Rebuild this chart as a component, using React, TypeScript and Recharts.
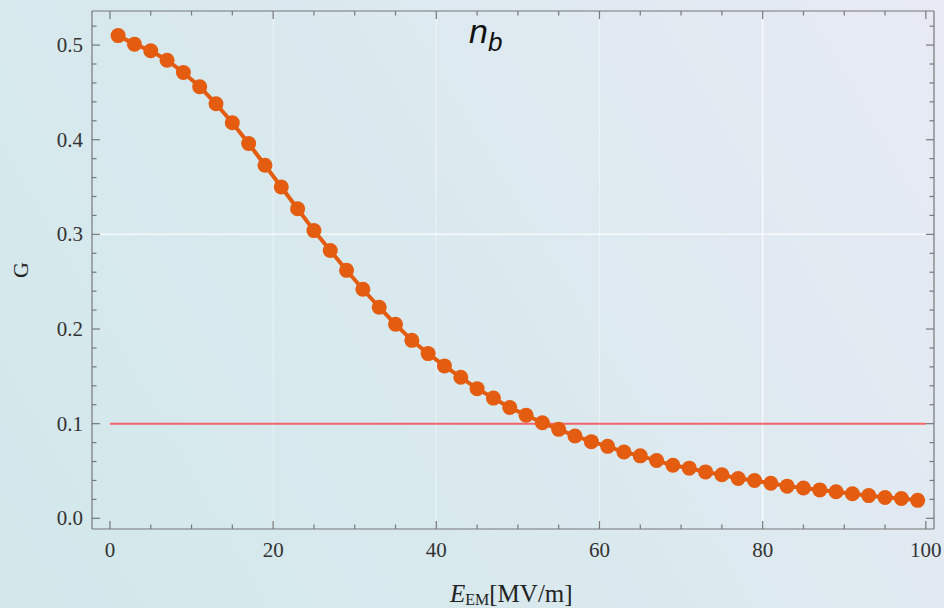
import React from "react";
import {
  LineChart,
  Line,
  XAxis,
  YAxis,
  CartesianGrid,
  ReferenceLine,
} from "recharts";

const E_VALUES = [
  1, 3, 5, 7, 9, 11, 13, 15, 17, 19, 21, 23, 25, 27, 29, 31, 33, 35, 37, 39,
  41, 43, 45, 47, 49, 51, 53, 55, 57, 59, 61, 63, 65, 67, 69, 71, 73, 75, 77,
  79, 81, 83, 85, 87, 89, 91, 93, 95, 97, 99,
];
const G_VALUES = [
  0.51, 0.501, 0.494, 0.484, 0.471, 0.456, 0.438, 0.418, 0.396, 0.373, 0.35,
  0.327, 0.304, 0.283, 0.262, 0.242, 0.223, 0.205, 0.188, 0.174, 0.161, 0.149,
  0.137, 0.127, 0.117, 0.109, 0.101, 0.094, 0.087, 0.081, 0.076, 0.07, 0.066,
  0.061, 0.056, 0.053, 0.049, 0.046, 0.042, 0.04, 0.037, 0.034, 0.032, 0.03,
  0.028, 0.026, 0.024, 0.022, 0.021, 0.019,
];
const THRESHOLD = 0.1;
const THRESHOLD_RANGE = [0, 100];

const X_TICKS = [
  0, 5, 10, 15, 20, 25, 30, 35, 40, 45, 50, 55, 60, 65, 70, 75, 80, 85, 90, 95,
  100,
];
const X_LABELS = [0, 20, 40, 60, 80, 100];
const Y_TICKS = [
  0, 0.02, 0.04, 0.06, 0.08, 0.1, 0.12, 0.14, 0.16, 0.18, 0.2, 0.22, 0.24,
  0.26, 0.28, 0.3, 0.32, 0.34, 0.36, 0.38, 0.4, 0.42, 0.44, 0.46, 0.48, 0.5,
  0.52,
];
const Y_LABELS = [0, 0.1, 0.2, 0.3, 0.4, 0.5];
const GRID_X_FAINT = [20, 40, 60];
const GRID_X = [80];
const GRID_Y = [0.3];

const data = E_VALUES.map((e, i) => ({ e, g: G_VALUES[i] }));

const W = 944;
const H = 608;
const MARGIN = { top: 11, right: 10, left: 0, bottom: 0 };
const Y_AXIS_W = 92;
const X_AXIS_H = 79;
const PLOT_W = W - MARGIN.right - Y_AXIS_W;
const PLOT_H = H - MARGIN.top - X_AXIS_H;

const FRAME = "#777";
const ORANGE = "#e35c0f";
const serif = "'Liberation Serif', 'Times New Roman', serif";
const X_DOMAIN = [-2.2, 101];
const Y_DOMAIN = [-0.0113, 0.536];

const isXLabel = (v: number) => X_LABELS.includes(v);
const isYLabel = (v: number) => Y_LABELS.some((l) => Math.abs(l - v) < 1e-6);

// bottom ticks also draw the matching mark on the top frame
const BottomTick = (props: any) => {
  const { x, y, payload } = props;
  const major = isXLabel(payload.value);
  const len = major ? 8 : 4.5;
  const top = y - PLOT_H;
  return (
    <g>
      <line x1={x} x2={x} y1={y} y2={y - len} stroke={FRAME} strokeWidth={1.2} />
      <line x1={x} x2={x} y1={top} y2={top + len} stroke={FRAME} strokeWidth={1.2} />
      {major && (
        <text x={x} y={y + 28} textAnchor="middle" fontFamily={serif} fontSize={21} fill="#333">
          {payload.value}
        </text>
      )}
    </g>
  );
};

// left ticks also draw the matching mark on the right frame
const LeftTick = (props: any) => {
  const { x, y, payload } = props;
  const major = isYLabel(payload.value);
  const len = major ? 8 : 4.5;
  const right = x + PLOT_W;
  return (
    <g>
      <line x1={x} x2={x + len} y1={y} y2={y} stroke={FRAME} strokeWidth={1.2} />
      <line x1={right} x2={right - len} y1={y} y2={y} stroke={FRAME} strokeWidth={1.2} />
      {major && (
        <text x={x - 9} y={y + 7} textAnchor="end" fontFamily={serif} fontSize={21} fill="#333">
          {payload.value.toFixed(1)}
        </text>
      )}
    </g>
  );
};

export default function App() {
  return (
    <div
      style={{
        position: "absolute",
        left: 0,
        top: 0,
        width: W,
        height: H,
        background:
          "linear-gradient(60deg, #d2e8eb 0%, #d9e9ee 45%, #e7eaf4 100%)",
      }}
    >
      <LineChart width={W} height={H} data={data} margin={MARGIN}>
        <CartesianGrid
          xAxisId="b"
          yAxisId="l"
          horizontal={false}
          verticalValues={GRID_X_FAINT}
          stroke="#ffffff"
          strokeOpacity={0.4}
          strokeWidth={1.2}
        />
        <CartesianGrid
          xAxisId="b"
          yAxisId="l"
          horizontalValues={GRID_Y}
          verticalValues={GRID_X}
          stroke="#ffffff"
          strokeOpacity={0.75}
          strokeWidth={1.5}
        />
        <XAxis
          xAxisId="b"
          type="number"
          dataKey="e"
          domain={X_DOMAIN}
          allowDataOverflow
          ticks={X_TICKS}
          interval={0}
          height={X_AXIS_H}
          tickSize={0}
          tickMargin={0}
          tickLine={false}
          tick={BottomTick}
          axisLine={{ stroke: FRAME, strokeWidth: 1.2 }}
        />
        <YAxis
          yAxisId="l"
          type="number"
          domain={Y_DOMAIN}
          allowDataOverflow
          ticks={Y_TICKS}
          interval={0}
          width={Y_AXIS_W}
          tickSize={0}
          tickMargin={0}
          tickLine={false}
          tick={LeftTick}
          axisLine={{ stroke: FRAME, strokeWidth: 1.2 }}
        />
        {/* top and right frame edges */}
        <ReferenceLine xAxisId="b" yAxisId="l" y={Y_DOMAIN[1]} stroke={FRAME} strokeWidth={1.2} ifOverflow="extendDomain" />
        <ReferenceLine xAxisId="b" yAxisId="l" x={X_DOMAIN[1]} stroke={FRAME} strokeWidth={1.2} ifOverflow="extendDomain" />
        <ReferenceLine
          xAxisId="b"
          yAxisId="l"
          segment={[
            { x: THRESHOLD_RANGE[0], y: THRESHOLD },
            { x: THRESHOLD_RANGE[1], y: THRESHOLD },
          ]}
          stroke="#f26468"
          strokeWidth={2}
        />
        <Line
          xAxisId="b"
          yAxisId="l"
          type="linear"
          dataKey="g"
          stroke={ORANGE}
          strokeWidth={4}
          dot={{ r: 7.5, fill: ORANGE, stroke: "none" }}
          isAnimationActive={false}
        />
      </LineChart>
      <svg
        width={W}
        height={H}
        style={{ position: "absolute", left: 0, top: 0, pointerEvents: "none" }}
      >
        <text
          x={469}
          y={43}
          fontFamily="'Liberation Sans', Arial, sans-serif"
          fontStyle="italic"
          fontSize={34}
          fill="#111"
        >
          n
          <tspan fontSize={26} dy={8}>
            b
          </tspan>
        </text>
        <text
          x={20}
          y={270}
          transform="rotate(-90 20 270)"
          textAnchor="middle"
          dominantBaseline="central"
          fontFamily={serif}
          fontSize={22}
          fill="#222"
        >
          G
        </text>
        <text x={450} y={602} fontFamily={serif} fontSize={25} fill="#222">
          <tspan fontStyle="italic">E</tspan>
          <tspan fontSize={16} dy={3}>
            EM
          </tspan>
          <tspan dy={-3}>[MV/m]</tspan>
        </text>
      </svg>
    </div>
  );
}
